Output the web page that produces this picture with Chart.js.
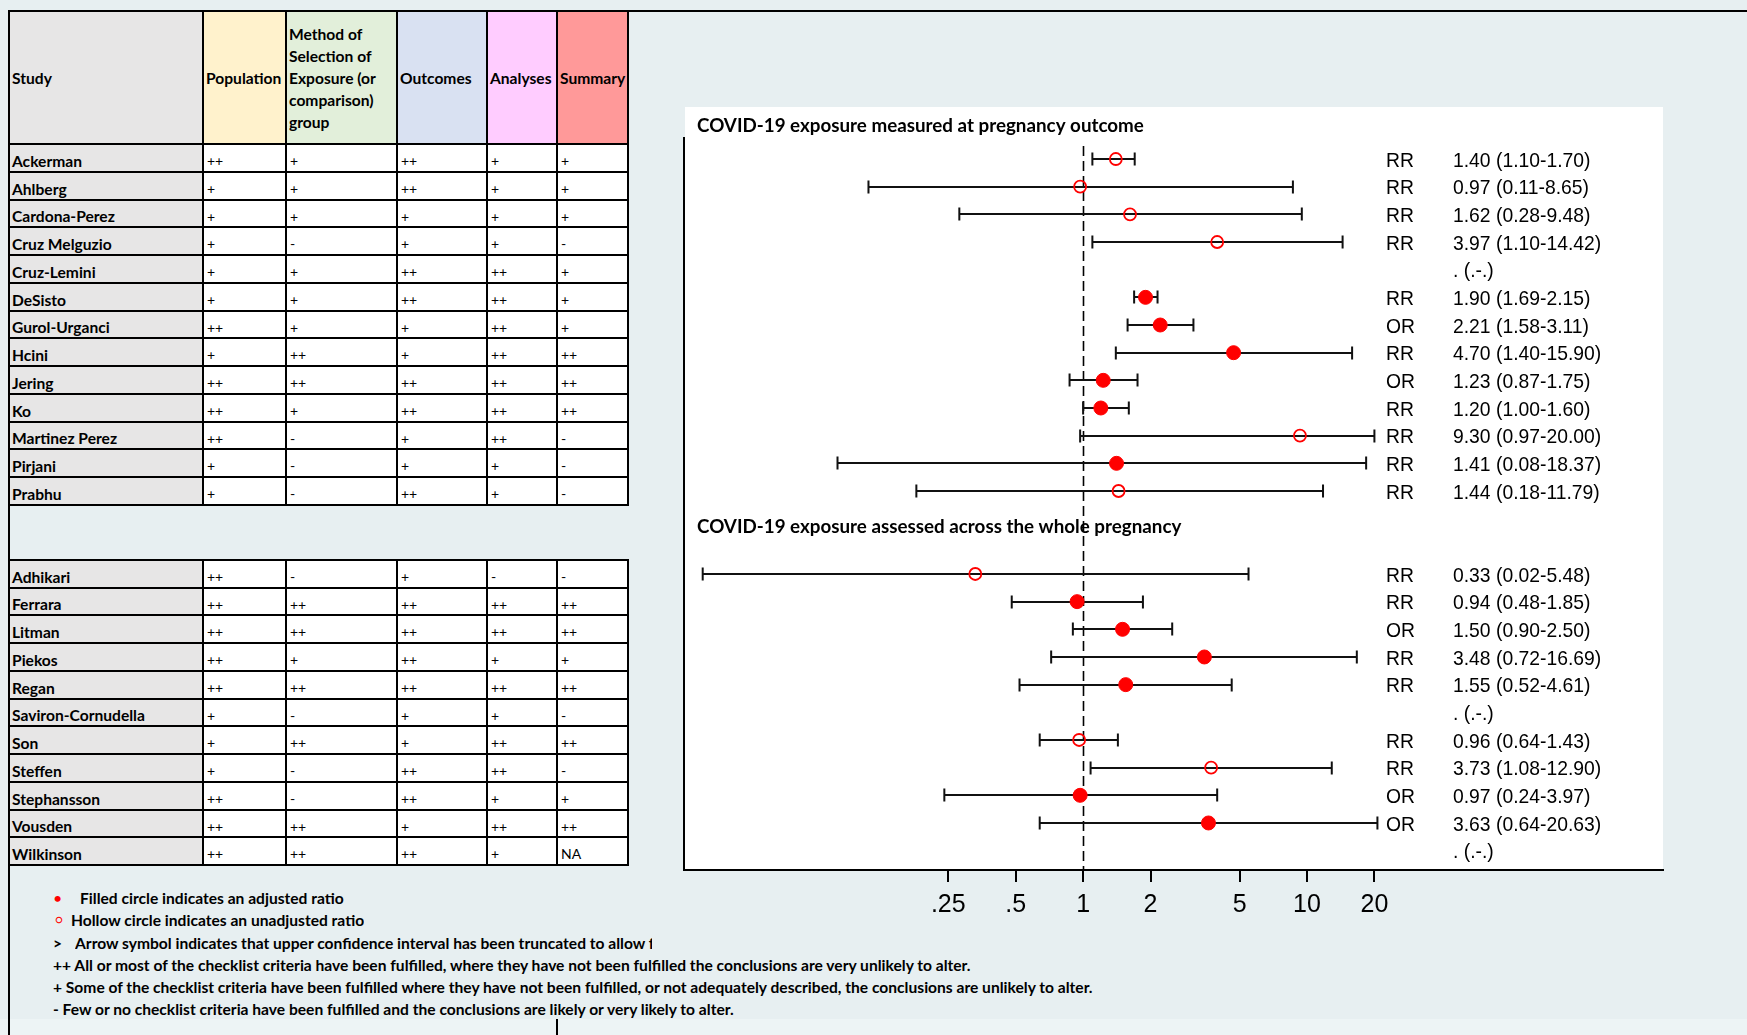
<!DOCTYPE html>
<html>
<head>
<meta charset="utf-8">
<title>COVID-19 exposure and pregnancy outcomes: quality assessment and effect estimates</title>
<script src="https://cdn.jsdelivr.net/npm/chart.js@4.4.1/dist/chart.umd.min.js"></script>
<style>
  html, body { margin: 0; padding: 0; }
  body {
    width: 1747px; height: 1035px; position: relative; overflow: hidden;
    background: #e7eff1; font-family: Lato, "Open Sans", sans-serif; color: #000;
  }
  .rule { position: absolute; background: #000; }
  .grid { position: absolute; background: #000; }
  .cell {
    position: absolute; box-sizing: border-box; display: flex; align-items: center;
    padding: 5px 0 0 3px; font-size: 14px; white-space: nowrap; overflow: hidden; background: #fff;
  }
  .cell.study { font-weight: 700; font-size: 15.6px; background: #e7e6e6; padding-left: 2px; }
  .cell.head { font-weight: 700; font-size: 15.6px; line-height: 22px; white-space: pre-line; padding: 0 0 0 2px; }
  #panel { position: absolute; left: 685px; top: 107px; width: 978px; height: 764px; background: #fff; }
  #bottomBand { position: absolute; left: 0; top: 1019px; width: 1747px; height: 16px; background: #edf4f5; }
  .note { position: absolute; font-weight: 700; font-size: 15.6px; line-height: 22px; white-space: nowrap; overflow: hidden; }
  .mark { position: absolute; color: #ff0000; line-height: 22px; }
  #forest { position: absolute; left: 0; top: 0; pointer-events: none; }
</style>
</head>
<body>
<div id="bottomBand"></div>
<div id="panel"></div>
<div id="tables"></div>
<div id="notes"></div>
<canvas id="forest" width="1747" height="1035"></canvas>

<script>
// ---------- Quality assessment table ----------
const headers = ['Study', 'Population', 'Method of\nSelection of\nExposure (or\ncomparison)\ngroup', 'Outcomes', 'Analyses', 'Summary'];

const studies1 = ['Ackerman', 'Ahlberg', 'Cardona-Perez', 'Cruz Melguzio', 'Cruz-Lemini', 'DeSisto',
  'Gurol-Urganci', 'Hcini', 'Jering', 'Ko', 'Martinez Perez', 'Pirjani', 'Prabhu'];
const ratings1 = [
  ['++', '+', '++', '+', '+'],
  ['+', '+', '++', '+', '+'],
  ['+', '+', '+', '+', '+'],
  ['+', '-', '+', '+', '-'],
  ['+', '+', '++', '++', '+'],
  ['+', '+', '++', '++', '+'],
  ['++', '+', '+', '++', '+'],
  ['+', '++', '+', '++', '++'],
  ['++', '++', '++', '++', '++'],
  ['++', '+', '++', '++', '++'],
  ['++', '-', '+', '++', '-'],
  ['+', '-', '+', '+', '-'],
  ['+', '-', '++', '+', '-']
];

const studies2 = ['Adhikari', 'Ferrara', 'Litman', 'Piekos', 'Regan', 'Saviron-Cornudella', 'Son',
  'Steffen', 'Stephansson', 'Vousden', 'Wilkinson'];
const ratings2 = [
  ['++', '-', '+', '-', '-'],
  ['++', '++', '++', '++', '++'],
  ['++', '++', '++', '++', '++'],
  ['++', '+', '++', '+', '+'],
  ['++', '++', '++', '++', '++'],
  ['+', '-', '+', '+', '-'],
  ['+', '++', '+', '++', '++'],
  ['+', '-', '++', '++', '-'],
  ['++', '-', '++', '+', '+'],
  ['++', '++', '+', '++', '++'],
  ['++', '++', '++', '+', 'NA']
];

// ---------- Forest plot estimates ----------
// exposure measured at pregnancy outcome (same order as studies1)
const measure1 = ['RR', 'RR', 'RR', 'RR', null, 'RR', 'OR', 'RR', 'OR', 'RR', 'RR', 'RR', 'RR'];
const est1 = [1.40, 0.97, 1.62, 3.97, null, 1.90, 2.21, 4.70, 1.23, 1.20, 9.30, 1.41, 1.44];
const lo1  = [1.10, 0.11, 0.28, 1.10, null, 1.69, 1.58, 1.40, 0.87, 1.00, 0.97, 0.08, 0.18];
const hi1  = [1.70, 8.65, 9.48, 14.42, null, 2.15, 3.11, 15.90, 1.75, 1.60, 20.00, 18.37, 11.79];
const adjusted1 = [false, false, false, false, null, true, true, true, true, true, false, true, false];

// exposure assessed across the whole pregnancy (same order as studies2)
const measure2 = ['RR', 'RR', 'OR', 'RR', 'RR', null, 'RR', 'RR', 'OR', 'OR', null];
const est2 = [0.33, 0.94, 1.50, 3.48, 1.55, null, 0.96, 3.73, 0.97, 3.63, null];
const lo2  = [0.02, 0.48, 0.90, 0.72, 0.52, null, 0.64, 1.08, 0.24, 0.64, null];
const hi2  = [5.48, 1.85, 2.50, 16.69, 4.61, null, 1.43, 12.90, 3.97, 20.63, null];
const adjusted2 = [false, true, true, true, true, null, false, false, true, true, null];

const sectionTitles = ['COVID-19 exposure measured at pregnancy outcome', 'COVID-19 exposure assessed across the whole pregnancy'];
const tickValues = [0.25, 0.5, 1, 2, 5, 10, 20];
const tickLabels = ['.25', '.5', '1', '2', '5', '10', '20'];

// ---------- build the HTML table ----------
const colX = [9, 203, 286, 397, 487, 557, 628];
const headFill = ['#e7e6e6', '#fff2cc', '#e2efda', '#d9e1f2', '#ffccff', '#ff9999'];
const host = document.getElementById('tables');

function el(cls, x0, y0, x1, y1, text, bg) {
  const d = document.createElement('div');
  d.className = cls;
  d.style.left = x0 + 'px'; d.style.top = y0 + 'px';
  d.style.width = (x1 - x0) + 'px'; d.style.height = (y1 - y0) + 'px';
  if (bg) d.style.background = bg;
  if (text != null) d.textContent = text;
  host.appendChild(d);
  return d;
}

function buildTable(top, headerBottom, rowH, names, ratings, withHeader) {
  const lines = [top];
  if (withHeader) lines.push(headerBottom);
  const start = lines[lines.length - 1];
  for (let i = 1; i <= names.length; i++) lines.push(start + rowH * i);
  const bottom = lines[lines.length - 1];
  el('grid', colX[0] - 1, top - 1, colX[6] + 1, bottom + 1);
  let r0 = 0;
  if (withHeader) {
    headers.forEach((h, c) => el('cell head', colX[c] + 1, lines[0] + 1, colX[c + 1] - 1, lines[1] - 1, h, headFill[c]));
    r0 = 1;
  }
  names.forEach((n, i) => {
    const y0 = Math.round(lines[r0 + i]) + 1, y1 = Math.round(lines[r0 + i + 1]) - 1;
    el('cell study', colX[0] + 1, y0, colX[1] - 1, y1, n);
    ratings[i].forEach((v, c) => el('cell', colX[c + 1] + 1, y0, colX[c + 2] - 1, y1, v));
  });
}
buildTable(11, 144, 27.77, studies1, ratings1, true);
buildTable(560, 560, 27.73, studies2, ratings2, false);

// frame rules
[[8, 10, 1747, 12], [8, 10, 10, 1035], [556, 1019, 558, 1035]].forEach(([x0, y0, x1, y1]) => {
  const d = document.createElement('div');
  d.className = 'rule';
  Object.assign(d.style, { left: x0 + 'px', top: y0 + 'px', width: (x1 - x0) + 'px', height: (y1 - y0) + 'px' });
  document.body.appendChild(d);
});

// ---------- footnotes ----------
const notes = document.getElementById('notes');
function note(x, cy, text, width) {
  const d = document.createElement('div');
  d.className = 'note';
  d.style.left = x + 'px'; d.style.top = (cy - 11) + 'px';
  if (width) d.style.width = width + 'px';
  d.textContent = text;
  notes.appendChild(d);
}
function mark(x, cy, ch, size) {
  const d = document.createElement('div');
  d.className = 'mark';
  d.style.left = x + 'px'; d.style.top = (cy - 11) + 'px'; d.style.fontSize = size + 'px';
  d.textContent = ch;
  notes.appendChild(d);
}
mark(53, 898, '\u2022', 16);
note(80, 898, 'Filled circle indicates an adjusted ratio');
mark(55, 920, '\u25CB', 12);
note(71, 920, 'Hollow circle indicates an unadjusted ratio');
note(53, 943, '>', null);
note(75, 943, 'Arrow symbol indicates that upper confidence interval has been truncated to allow for', 577);
note(53, 965, '++ All or most of the checklist criteria have been fulfilled, where they have not been fulfilled the conclusions are very unlikely to alter.');
note(53, 987, '+ Some of the checklist criteria have been fulfilled where they have not been fulfilled, or not adequately described, the conclusions are unlikely to alter.');
note(53, 1009, '- Few or no checklist criteria have been fulfilled and the conclusions are likely or very likely to alter.');

// ---------- forest plot ----------
const SECTION_GAP = 2;   // blank rows between the two groups
const rows = [];
function addSection(measure, est, lo, hi, adj, start) {
  est.forEach((e, i) => rows.push({ row: start + i, m: measure[i], est: e, lo: lo[i], hi: hi[i], adj: adj[i] }));
}
addSection(measure1, est1, lo1, hi1, adjusted1, 0);
const start2 = est1.length + SECTION_GAP;
addSection(measure2, est2, lo2, hi2, adjusted2, start2);

const fmt = r => r.est == null ? '. (.-.)' :
  r.est.toFixed(2) + ' (' + r.lo.toFixed(2) + '-' + r.hi.toFixed(2) + ')';

const RED = '#ff0000';

const forestPlugin = {
  id: 'forest',
  beforeDatasetsDraw(chart) {
    const { ctx, chartArea, scales: { x, y } } = chart;
    ctx.save();
    // line of no effect
    const x1 = Math.round(x.getPixelForValue(1)) + 0.5;
    ctx.strokeStyle = '#000';
    ctx.lineWidth = 1.6;
    ctx.setLineDash([10, 5]);
    ctx.beginPath();
    ctx.moveTo(x1, chartArea.top + 8);
    ctx.lineTo(x1, chartArea.bottom);
    ctx.stroke();
    ctx.setLineDash([]);
    // confidence intervals
    ctx.lineWidth = 2;
    ctx.strokeStyle = '#111';
    rows.forEach(r => {
      if (r.est == null) return;
      const py = Math.round(y.getPixelForValue(r.row));
      const a = x.getPixelForValue(r.lo), b = x.getPixelForValue(r.hi);
      ctx.beginPath();
      ctx.moveTo(a, py); ctx.lineTo(b, py);
      ctx.moveTo(a, py - 6.5); ctx.lineTo(a, py + 6.5);
      ctx.moveTo(b, py - 6.5); ctx.lineTo(b, py + 6.5);
      ctx.stroke();
    });
    ctx.restore();
  },
  afterDraw(chart) {
    const { ctx, chartArea, scales: { y } } = chart;
    ctx.save();
    ctx.fillStyle = '#000';
    ctx.textBaseline = 'middle';
    ctx.font = '21px "Liberation Sans", Arial, sans-serif';
    const mx = chartArea.right - 277, vx = chartArea.right - 210;
    const squeeze = 0.92;   // slightly condensed figures
    rows.forEach(r => {
      const py = y.getPixelForValue(r.row) + 2;
      ctx.save();
      ctx.translate(mx, py);
      ctx.scale(squeeze, 1);
      if (r.m) ctx.fillText(r.m, 0, 0);
      ctx.restore();
      ctx.save();
      ctx.translate(vx, py);
      ctx.scale(squeeze, 1);
      ctx.fillText(fmt(r), 0, 0);
      ctx.restore();
    });
    ctx.font = 'bold 18.8px Lato, "Open Sans", sans-serif';
    ctx.fillText(sectionTitles[0], chartArea.left + 13, y.getPixelForValue(-1.2));
    ctx.fillText(sectionTitles[1], chartArea.left + 13, y.getPixelForValue(start2 - 1.7));
    ctx.restore();
  }
};

const pts = flag => rows.filter(r => r.est != null && r.adj === flag).map(r => ({ x: r.est, y: r.row }));

new Chart(document.getElementById('forest'), {
  type: 'scatter',
  data: {
    datasets: [
      { label: 'Adjusted', data: pts(true), pointStyle: 'circle', pointRadius: 7,
        backgroundColor: RED, borderColor: RED, borderWidth: 1 },
      { label: 'Unadjusted', data: pts(false), pointStyle: 'circle', pointRadius: 6,
        backgroundColor: 'rgba(0,0,0,0)', borderColor: RED, borderWidth: 1.8 }
    ]
  },
  options: {
    responsive: false, animation: false, devicePixelRatio: 1,
    layout: { padding: { left: 684, top: 138, right: 84, bottom: 105 } },
    plugins: { legend: { display: false }, tooltip: { enabled: false } },
    scales: {
      x: {
        type: 'logarithmic', min: 0.0165, max: 389, position: 'bottom',
        afterBuildTicks: s => { s.ticks = tickValues.map(v => ({ value: v })); },
        afterFit: s => { s.height = 60; },
        grid: { display: true, drawOnChartArea: false, drawTicks: true, tickLength: 12, color: '#000', lineWidth: 2 },
        border: { display: true, color: '#000', width: 2 },
        ticks: {
          autoSkip: false, maxRotation: 0, padding: 8, color: '#000',
          font: { family: '"Liberation Sans", Arial, sans-serif', size: 25 },
          callback: (v, i) => tickLabels[i]
        }
      },
      y: {
        type: 'linear', min: -0.76, max: 25.7, reverse: true, position: 'left',
        afterFit: s => { s.width = 0; },
        grid: { display: false, drawTicks: false },
        border: { display: true, color: '#000', width: 2 },
        ticks: { display: false }
      }
    }
  },
  plugins: [forestPlugin]
});
</script>
</body>
</html>
